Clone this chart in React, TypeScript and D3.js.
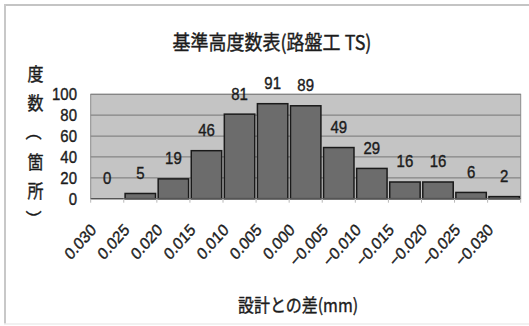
import React from "react";
import * as d3 from "d3";

// Deviation from design value (mm) and count of points in each bin
const categories = [
  "0.030", "0.025", "0.020", "0.015", "0.010", "0.005", "0.000",
  "−0.005", "−0.010", "−0.015", "−0.020", "−0.025", "−0.030",
];
const counts = [0, 5, 19, 46, 81, 91, 89, 49, 29, 16, 16, 6, 2];
const yTicks = [0, 20, 40, 60, 80, 100];

const titleText = "基準高度数表(路盤工 TS)";
// vertical axis title, one glyph per line; brackets are turned upright
const yTitleChars = ["度", "数", "（", "箇", "所", "）"];
const xTitleText = "設計との差(mm)";

const W = 529;
const H = 326;
const plot = { left: 90.7, right: 520.7, top: 94.3, bottom: 198.7 };
const SY = 1.12; // glyphs are drawn slightly taller than wide
const NUM_FONT = "'Liberation Sans', Arial, sans-serif";
const CJK_FONT = "'Noto Sans CJK JP', 'Noto Sans CJK SC', sans-serif";
const INK = "#1c1c1c";
const INK_STROKE = { stroke: INK, strokeWidth: 0.35 };

export default function App() {
  const x = d3
    .scaleBand<string>()
    .domain(categories)
    .range([plot.left, plot.right])
    .paddingInner(0.08)
    .paddingOuter(0.04);
  const y = d3.scaleLinear().domain([0, 100]).range([plot.bottom, plot.top]);
  const step = x.step();
  const edges = d3.range(categories.length + 1).map((i) => plot.left + i * step);

  return (
    <svg
      width={W}
      height={H}
      style={{ position: "absolute", left: 0, top: 0, background: "#fff" }}
    >
      {/* outer frame */}
      <line x1={4} x2={W} y1={5} y2={5} stroke="#c4c4c4" strokeWidth={2} />
      <line x1={5} x2={5} y1={4} y2={324} stroke="#c8c8c8" strokeWidth={2} />
      <line x1={4} x2={W} y1={324} y2={324} stroke="#ececec" strokeWidth={1.5} />

      {/* title */}
      <text
        transform={`translate(272,49.5) scale(1,${SY})`}
        textAnchor="middle"
        fontFamily={CJK_FONT}
        fontSize={18}
        fill={INK}
        {...INK_STROKE}
      >
        {titleText}
      </text>

      {/* plot background and gridlines */}
      <rect
        x={plot.left}
        y={plot.top}
        width={plot.right - plot.left}
        height={plot.bottom - plot.top}
        fill="#c4c4c4"
        stroke="#8c8c8c"
        strokeWidth={1}
      />
      {yTicks.map((t) => (
        <line
          key={"g" + t}
          x1={plot.left}
          x2={plot.right}
          y1={y(t)}
          y2={y(t)}
          stroke="#858585"
          strokeWidth={1.2}
        />
      ))}

      {/* bars */}
      {counts.map((v, i) => (
        <rect
          key={"b" + i}
          x={x(categories[i])!}
          y={y(v)}
          width={x.bandwidth()}
          height={plot.bottom - y(v)}
          fill="#6c6c6c"
          stroke="#1a1a1a"
          strokeWidth={1.5}
        />
      ))}

      {/* axis line and category ticks */}
      <line
        x1={plot.left}
        x2={plot.right}
        y1={plot.bottom}
        y2={plot.bottom}
        stroke="#555"
        strokeWidth={1.2}
      />
      {edges.map((ex, i) => (
        <line
          key={"t" + i}
          x1={ex}
          x2={ex}
          y1={plot.bottom}
          y2={plot.bottom + 4}
          stroke="#b8b8b8"
          strokeWidth={1}
        />
      ))}

      {/* value labels */}
      {counts.map((v, i) => (
        <text
          key={"v" + i}
          transform={`translate(${x(categories[i])! + x.bandwidth() / 2},${
            y(v) - 14.5
          }) scale(1,${SY})`}
          textAnchor="middle"
          fontFamily={NUM_FONT}
          fontSize={15}
          fill={INK}
          {...INK_STROKE}
        >
          {v}
        </text>
      ))}

      {/* y tick labels */}
      {yTicks.map((t) => (
        <text
          key={"y" + t}
          transform={`translate(77,${y(t) + 6}) scale(1,${SY})`}
          textAnchor="end"
          fontFamily={NUM_FONT}
          fontSize={15}
          fill={INK}
          {...INK_STROKE}
        >
          {t}
        </text>
      ))}

      {/* x tick labels */}
      {categories.map((c) => (
        <text
          key={"x" + c}
          transform={`translate(${x(c)! + x.bandwidth() / 2 - 10},231) scale(1,${SY}) rotate(-45)`}
          textAnchor="end"
          fontFamily={NUM_FONT}
          fontSize={15}
          fill={INK}
          {...INK_STROKE}
        >
          {c}
        </text>
      ))}

      {/* y axis title, stacked vertically */}
      {yTitleChars.map((ch, i) => {
        const cy = 73 + i * 29.2;
        const bracket = ch === "（" || ch === "）";
        return (
          <text
            key={"yt" + i}
            transform={`translate(35.5,${cy}) scale(1,${SY})${bracket ? " rotate(90)" : ""}`}
            textAnchor="middle"
            dominantBaseline="central"
            fontFamily={CJK_FONT}
            fontSize={16}
            fill={INK}
            {...INK_STROKE}
          >
            {ch}
          </text>
        );
      })}

      {/* x axis title */}
      <text
        transform={`translate(298,312) scale(1,${SY})`}
        textAnchor="middle"
        fontFamily={CJK_FONT}
        fontSize={16}
        fill={INK}
        {...INK_STROKE}
      >
        {xTitleText}
      </text>
    </svg>
  );
}
